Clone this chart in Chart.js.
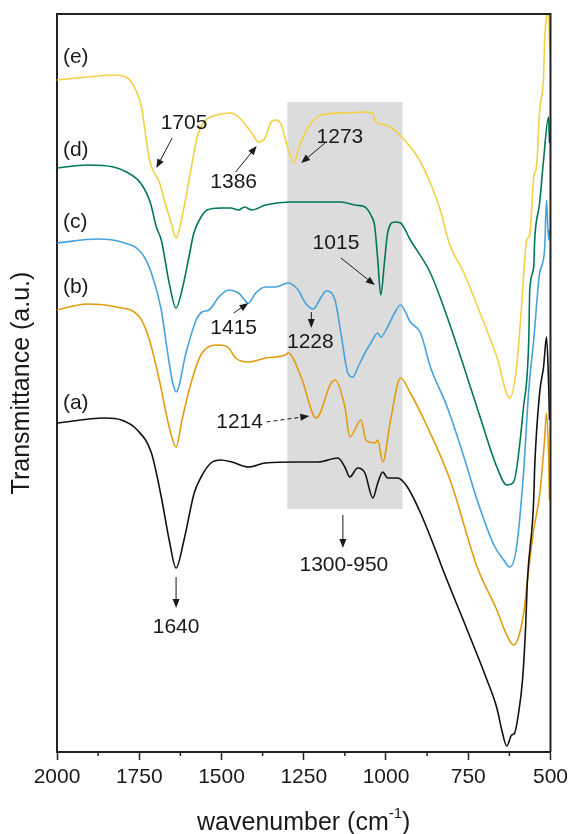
<!DOCTYPE html>
<html>
<head>
<meta charset="utf-8">
<script src="https://cdn.jsdelivr.net/npm/chart.js@4.4.1/dist/chart.umd.min.js"></script>
<style>
  html, body { margin: 0; padding: 0; background: #fff; }
  #wrap { position: relative; width: 573px; height: 834px; }
</style>
</head>
<body>
<div id="wrap"><canvas id="ftir"></canvas></div>
<script>
// FTIR spectra (a)-(e), transmittance in arbitrary units, stacked.

const waveA = [2000,1855,1804,1756,1713,1683,1659,1638,1614,1583,1562,1532,1502,1469,1418,1366,1267,1206,1146,1125,1110,1086,1064,1040,1025,1010,995,965,935,895,853,823,753,693,663,648,633,618,609,597,585,576,570,551,548,533,521,512,506,503];
const transA = [329,334,332,322,299,255,212,184,212,259,275,289,292,290,285,289,290,290,294,285,275,284,279,254,269,280,274,274,265,239,205,179,122,72,44,22,6,17,19,39,72,122,172,252,285,359,385,415,372,332];

const waveB = [2000,1909,1819,1749,1719,1689,1659,1638,1620,1590,1559,1508,1478,1457,1418,1366,1306,1297,1258,1212,1167,1155,1125,1110,1076,1061,1034,1025,1010,986,956,926,874,805,723,663,633,612,597,585,579,570,551,533,518,512,506,503];
const transB = [442,448,445,435,412,372,325,305,332,372,399,407,404,394,390,394,397,399,375,334,369,372,345,315,332,312,309,312,290,332,374,359,325,272,185,142,117,107,115,132,145,172,222,257,312,339,299,252];

const waveC = [2000,1876,1804,1743,1713,1683,1665,1650,1638,1608,1577,1559,1538,1508,1478,1448,1418,1396,1366,1336,1297,1267,1245,1221,1197,1182,1155,1137,1116,1101,1085,1064,1046,1025,1016,995,974,956,926,895,865,814,763,723,672,642,624,603,582,566,551,533,518,512,506,503];
const transC = [509,513,510,499,479,442,402,372,360,399,432,440,442,455,462,459,449,459,465,465,469,462,449,443,455,461,452,419,379,375,385,399,409,419,415,425,439,447,430,419,385,345,295,252,207,192,185,205,279,362,412,479,502,552,512,522];

const waveD = [2000,1909,1828,1789,1746,1716,1698,1683,1659,1638,1620,1599,1584,1562,1544,1502,1472,1448,1430,1408,1366,1288,1137,1095,1064,1055,1046,1034,1025,1016,1004,995,974,956,926,865,814,763,714,663,633,612,582,566,563,551,548,533,521,506,503];
const transD = [584,587,585,580,569,549,525,512,469,444,462,495,519,535,542,544,544,542,545,542,547,550,550,547,545,542,537,525,492,457,492,519,530,529,512,479,435,385,335,285,267,270,345,412,462,485,512,549,592,635,609];

const waveE = [2000,1906,1825,1786,1765,1743,1734,1719,1704,1689,1674,1653,1638,1620,1593,1574,1553,1514,1472,1448,1408,1387,1366,1351,1336,1318,1297,1279,1267,1236,1197,1125,1064,1040,1034,1025,1004,974,944,904,865,835,808,763,714,663,624,603,588,572,563,551,542,533,521,518,512,506,502];
const transE = [672,675,677,674,665,645,625,592,579,570,552,529,514,535,582,615,630,637,639,635,619,610,615,629,632,627,602,589,602,625,637,639,640,639,632,629,627,622,612,595,569,542,509,479,439,395,354,385,445,512,517,575,587,642,675,709,735,739,700];

const seriesNames = ['(a)', '(b)', '(c)', '(d)', '(e)'];
const seriesColors = ['#111111', '#e39c12', '#45a2dc', '#00775c', '#f5cf45'];
const seriesLabelAt = [[1982, 349], [1982, 465], [1982, 530], [1982, 602], [1982, 695]];

const xTicks = [2000, 1750, 1500, 1250, 1000, 750, 500];
const xMinorTicks = [1875, 1625, 1375, 1125, 875, 625];

// grey band of the 1300-950 region
const shadeRange = [1300, 950];
const shadeTop = 650, shadeBottom = 243;

// peak notes: text, text centre, arrow start -> arrow tip
const noteText = ['1705', '1386', '1273', '1015', '1415', '1228', '1214', '1640', '1300-950'];
const noteAt = [[1614, 629], [1463, 570], [1140, 615], [1152, 509], [1463, 424], [1230, 410], [1445, 330], [1638, 125], [1128, 187]];
const arrowFrom = [[1650, 614], [1457, 580], [1185, 609], [1137, 494], [1463, 439], [1227, 440], [1363, 330], [1638, 175], [1131, 237]];
const arrowTo = [[1698, 584], [1393, 606], [1258, 589], [1034, 467], [1418, 449], [1227, 424], [1233, 336], [1638, 144], [1131, 204]];
const arrowDashed = [false, false, false, false, false, false, true, false, false];

const FONT = '"Liberation Sans", Arial, Helvetica, sans-serif';
const INK = '#1a1a1a';

function arrow(ctx, x1, y1, x2, y2, dashed) {
  const ang = Math.atan2(y2 - y1, x2 - x1);
  const head = 9, half = 3.5;
  const c = Math.cos(ang), s = Math.sin(ang);
  ctx.save();
  ctx.strokeStyle = INK; ctx.fillStyle = INK; ctx.lineWidth = 1;
  if (dashed) ctx.setLineDash([4, 3]);
  ctx.beginPath();
  ctx.moveTo(x1, y1);
  ctx.lineTo(x2 - c * head, y2 - s * head);
  ctx.stroke();
  ctx.setLineDash([]);
  ctx.beginPath();
  ctx.moveTo(x2, y2);
  ctx.lineTo(x2 - c * head - s * half, y2 - s * head + c * half);
  ctx.lineTo(x2 - c * head + s * half, y2 - s * head - c * half);
  ctx.closePath();
  ctx.fill();
  ctx.restore();
}

const shadePlugin = {
  id: 'shade',
  beforeDatasetsDraw(chart) {
    const { ctx, scales: { x, y } } = chart;
    const x1 = x.getPixelForValue(shadeRange[0]), x2 = x.getPixelForValue(shadeRange[1]);
    const y1 = y.getPixelForValue(shadeTop), y2 = y.getPixelForValue(shadeBottom);
    ctx.save();
    ctx.fillStyle = '#dcdcdc';
    ctx.fillRect(Math.min(x1, x2), y1, Math.abs(x2 - x1), y2 - y1);
    ctx.restore();
  },
};

const notesPlugin = {
  id: 'notes',
  afterDatasetsDraw(chart) {
    const { ctx, scales: { x, y } } = chart;
    ctx.save();
    ctx.fillStyle = INK;
    ctx.font = '21px ' + FONT;
    ctx.textBaseline = 'middle';
    ctx.textAlign = 'left';
    seriesNames.forEach((name, i) => {
      ctx.fillText(name, x.getPixelForValue(seriesLabelAt[i][0]), y.getPixelForValue(seriesLabelAt[i][1]));
    });
    ctx.textAlign = 'center';
    noteText.forEach((t, i) => {
      ctx.fillText(t, x.getPixelForValue(noteAt[i][0]), y.getPixelForValue(noteAt[i][1]));
      arrow(ctx,
        x.getPixelForValue(arrowFrom[i][0]), y.getPixelForValue(arrowFrom[i][1]),
        x.getPixelForValue(arrowTo[i][0]), y.getPixelForValue(arrowTo[i][1]),
        arrowDashed[i]);
    });
    ctx.restore();
  },
};

const framePlugin = {
  id: 'frame',
  afterDraw(chart) {
    const { ctx, chartArea: a, scales: { x } } = chart;
    ctx.save();
    ctx.strokeStyle = '#222';
    ctx.lineWidth = 2;
    ctx.beginPath();
    ctx.moveTo(a.left, a.top);
    ctx.lineTo(a.right, a.top);
    ctx.lineTo(a.right, a.bottom);
    ctx.stroke();
    // minor ticks between labelled ones
    ctx.lineWidth = 1.5;
    ctx.beginPath();
    for (const w of xMinorTicks) {
      const px = x.getPixelForValue(w);
      ctx.moveTo(px, a.bottom);
      ctx.lineTo(px, a.bottom + 4);
    }
    ctx.stroke();
    // axis title with superscript
    ctx.fillStyle = INK;
    ctx.textBaseline = 'middle';
    ctx.textAlign = 'left';
    const main = 'wavenumber (cm', sup = '-1', tail = ')';
    ctx.font = '25px ' + FONT;
    const wMain = ctx.measureText(main).width, wTail = ctx.measureText(tail).width;
    ctx.font = '15px ' + FONT;
    const wSup = ctx.measureText(sup).width;
    const cx = (a.left + a.right) / 2, cy = 823;
    let px = cx - (wMain + wSup + wTail) / 2;
    ctx.font = '25px ' + FONT;
    ctx.fillText(main, px, cy);
    px += wMain;
    ctx.font = '15px ' + FONT;
    ctx.fillText(sup, px, cy - 9);
    px += wSup;
    ctx.font = '25px ' + FONT;
    ctx.fillText(tail, px, cy);
    ctx.restore();
  },
};

function series(waves, vals) {
  return waves.map((w, i) => ({ x: w, y: vals[i] }));
}

const allWaves = [waveA, waveB, waveC, waveD, waveE];
const allTrans = [transA, transB, transC, transD, transE];

const datasets = seriesNames.map((name, i) => ({
  label: name,
  data: series(allWaves[i], allTrans[i]),
  borderColor: seriesColors[i],
  borderWidth: 1.6,
  pointRadius: 0,
  fill: false,
  cubicInterpolationMode: 'monotone',
}));

new Chart(document.getElementById('ftir'), {
  type: 'line',
  data: { datasets },
  options: {
    responsive: true, maintainAspectRatio: false, animation: false,
    layout: { padding: { top: 14, right: 19, left: 3, bottom: 0 } },
    scales: {
      x: {
        type: 'linear', reverse: true, min: 500, max: 2000,
        afterBuildTicks: (s) => { s.ticks = xTicks.map(v => ({ value: v })); },
        afterFit: (s) => { s.height = 82; },
        ticks: { color: INK, font: { size: 21, family: FONT }, padding: 5, maxRotation: 0, callback: v => String(v) },
        grid: { drawOnChartArea: false, drawTicks: true, tickLength: 8, tickColor: '#222', tickWidth: 1.5 },
        border: { color: '#222', width: 2 },
      },
      y: {
        min: 0, max: 738,
        afterFit: (s) => { s.width = 54; },
        ticks: { display: false },
        grid: { drawOnChartArea: false, drawTicks: false },
        border: { color: '#222', width: 2 },
        title: { display: true, text: 'Transmittance (a.u.)', color: INK, font: { size: 25, family: FONT } },
      },
    },
    plugins: { legend: { display: false }, tooltip: { enabled: false } },
  },
  plugins: [shadePlugin, notesPlugin, framePlugin],
});
</script>
</body>
</html>
